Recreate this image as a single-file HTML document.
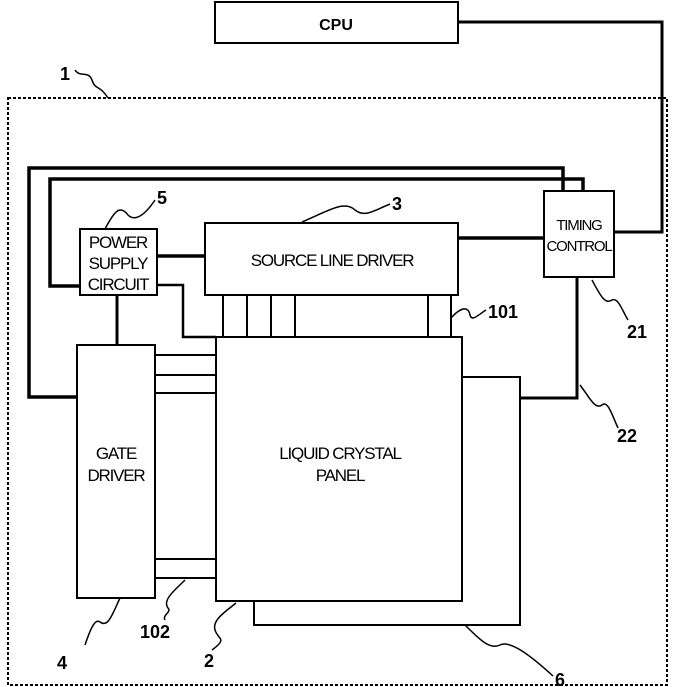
<!DOCTYPE html>
<html><head><meta charset="utf-8"><style>body{margin:0;background:#fff}svg{display:block}text{font-family:"Liberation Sans",sans-serif;fill:#000}</style></head><body>
<svg width="675" height="687" viewBox="0 0 675 687">
<g fill="none" stroke="#000">
<rect x="8" y="98" width="659" height="587" stroke-width="2" stroke-dasharray="3,2"/>
<rect x="215" y="2" width="243" height="41" stroke-width="2"/>
<polyline points="458,22 662,22 662,232 614,232" stroke-width="3"/>
<rect x="544" y="191" width="70" height="86" stroke-width="2"/>
<polyline points="77,397 29,397 29,168 563,168 563,191" stroke-width="3.5"/>
<polyline points="80,286 50,286 50,179 583,179 583,191" stroke-width="3.5"/>
<rect x="80" y="229" width="77" height="66" stroke-width="2"/>
<rect x="205" y="223" width="253" height="72" stroke-width="2"/>
<line x1="157" y1="256" x2="205" y2="256" stroke-width="3.5"/>
<line x1="458" y1="238" x2="544" y2="238" stroke-width="3.5"/>
<polyline points="157,285 183,285 183,337 216,337" stroke-width="2.5"/>
<line x1="117" y1="295" x2="117" y2="345" stroke-width="3"/>
<rect x="254" y="377" width="266" height="248" stroke-width="2" fill="#fff"/>
<rect x="216" y="337" width="246" height="264" stroke-width="2" fill="#fff"/>
<rect x="77" y="345" width="78" height="253" stroke-width="2"/>
<polyline points="520,398 577,398 577,277" stroke-width="3"/>
<g stroke-width="2">
<line x1="223" y1="295" x2="223" y2="337"/><line x1="247" y1="295" x2="247" y2="337"/>
<line x1="271" y1="295" x2="271" y2="337"/><line x1="295" y1="295" x2="295" y2="337"/>
<line x1="428" y1="295" x2="428" y2="337"/><line x1="451" y1="295" x2="451" y2="337"/>
<line x1="155" y1="355" x2="216" y2="355"/><line x1="155" y1="375" x2="216" y2="375"/>
<line x1="155" y1="393" x2="216" y2="393"/>
<line x1="155" y1="559" x2="216" y2="559"/><line x1="155" y1="578" x2="216" y2="578"/>
</g>
<g stroke-width="1.5">
<path d="M108,98 C100,85 95,90 92,80 C88,70 80,78 75,70"/>
<path d="M105,229 C115,210 120,205 128,215 C135,222 145,215 155,200"/>
<path d="M302,222 C330,210 345,200 355,210 C365,218 375,210 390,204"/>
<path d="M451,318 C460,308 468,305 470,315 C472,322 478,315 486,310"/>
<path d="M592,280 C600,295 605,305 612,300 C618,297 622,310 628,320"/>
<path d="M580,385 C590,398 595,410 602,405 C608,400 612,415 618,428"/>
<path d="M120,598 C112,615 108,628 100,622 C95,618 90,630 85,645"/>
<path d="M185,580 C175,590 162,600 168,608 C172,612 162,615 165,620"/>
<path d="M236,603 C225,612 212,620 215,630 C218,640 228,638 212,650"/>
<path d="M465,625 C480,640 490,650 500,645 C510,640 530,655 553,676"/>
</g>
</g>
<text x="336" y="30" font-size="16" font-weight="bold" text-anchor="middle">CPU</text>
<g font-size="17" text-anchor="middle" letter-spacing="-1.2">
<text x="118" y="248">POWER</text><text x="118" y="269">SUPPLY</text><text x="118" y="290">CIRCUIT</text>
<text x="332" y="266">SOURCE LINE DRIVER</text>
<text x="579" y="230" font-size="15">TIMING</text><text x="579" y="251" font-size="15">CONTROL</text>
<text x="116" y="459">GATE</text><text x="116" y="481">DRIVER</text>
<text x="340" y="459">LIQUID CRYSTAL</text><text x="340" y="481">PANEL</text>
</g>
<g font-size="18" font-weight="bold">
<text x="60" y="80">1</text><text x="157" y="204">5</text><text x="392" y="210">3</text>
<text x="488" y="318">101</text><text x="627" y="338">21</text><text x="617" y="442">22</text>
<text x="57" y="669">4</text><text x="140" y="638">102</text><text x="204" y="667">2</text><text x="555" y="686">6</text>
</g>
</svg>
</body></html>
